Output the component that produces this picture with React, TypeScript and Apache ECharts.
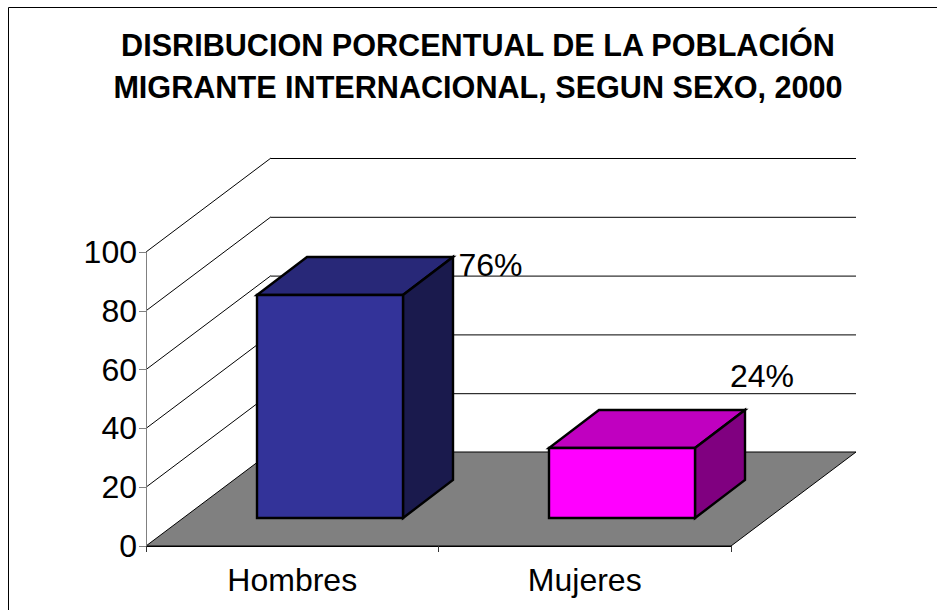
import React, { useEffect, useRef } from "react";
import * as echarts from "echarts";

const titleLines = ["DISRIBUCION PORCENTUAL DE LA POBLACIÓN", "MIGRANTE INTERNACIONAL, SEGUN SEXO, 2000"];
const categories = ["Hombres", "Mujeres"];
const values = [76, 24];
const valueLabels = ["76%", "24%"];
const yTicks = [20, 40, 60, 80, 100];
const frontColors = ["#333399", "#ff00ff"];
const topColors = ["#282878", "#c000c0"];
const sideColors = ["#1a1a4d", "#800080"];
const labelOffsets = [[5.5, 8], [-15, -34]];

const DEPTH_X = 125;
const DEPTH_Y = -94;
const BAR_FRONT = 0.3;
const BAR_BACK = 0.7;
const FONT = "Liberation Sans, Arial, sans-serif";

export default function App() {
  const ref = useRef<HTMLDivElement>(null);
  useEffect(() => {
    const chart = echarts.init(ref.current!, undefined, { renderer: "svg" });
    const line = (x1: number, y1: number, x2: number, y2: number, stroke: string, lineWidth = 1) => ({
      type: "line",
      shape: { x1, y1, x2, y2 },
      style: { stroke, lineWidth },
    });
    chart.setOption({
      animation: false,
      backgroundColor: "#ffffff",
      title: {
        text: titleLines.join("\n"),
        left: 473,
        top: 19,
        textAlign: "center",
        textStyle: { fontFamily: FONT, fontSize: 30.6, fontWeight: "bold", color: "#000", lineHeight: 42 },
      },
      graphic: [
        { type: "rect", shape: { x: 8.5, y: 7.5, width: 1000, height: 700 }, style: { fill: "none", stroke: "#000", lineWidth: 1 }, silent: true },
      ],
      grid: { left: 146, top: 252, width: 585, height: 294, containLabel: false },
      xAxis: {
        type: "category",
        data: categories,
        axisLine: { lineStyle: { color: "#000", width: 1 } },
        axisTick: { show: true, length: 6, lineStyle: { color: "#333" } },
        axisLabel: { fontFamily: FONT, fontSize: 32, color: "#000", margin: 18 },
        z: 5,
      },
      yAxis: {
        type: "value",
        min: 0,
        max: 100,
        interval: 20,
        axisLine: { show: true, lineStyle: { color: "#808080", width: 1 } },
        axisTick: { show: true, length: 7, lineStyle: { color: "#808080" } },
        axisLabel: { fontFamily: FONT, fontSize: 32, color: "#000", margin: 9 },
        splitLine: { show: false },
        z: 5,
      },
      series: [
        {
          type: "custom",
          coordinateSystem: "cartesian2d",
          clip: false,
          z: 1,
          encode: { x: 0, y: 1 },
          data: yTicks.map((t) => [0, t]),
          renderItem: (params: any, api: any) => {
            const y = api.coord([0, api.value(1)])[1];
            const { x, width } = params.coordSys;
            return {
              type: "group",
              children: [
                line(x, y, x + DEPTH_X, y + DEPTH_Y, "#000"),
                line(x + DEPTH_X, y + DEPTH_Y + 0.5, x + DEPTH_X + width, y + DEPTH_Y + 0.5, "#000"),
              ],
            };
          },
        },
        {
          type: "custom",
          coordinateSystem: "cartesian2d",
          clip: false,
          z: 2,
          encode: { x: 0, y: 1 },
          data: [[0, 0]],
          renderItem: (params: any, api: any) => {
            const y = api.coord([0, 0])[1];
            const { x, width } = params.coordSys;
            return {
              type: "polygon",
              shape: {
                points: [
                  [x, y],
                  [x + width, y],
                  [x + width + DEPTH_X, y + DEPTH_Y],
                  [x + DEPTH_X, y + DEPTH_Y],
                ],
              },
              style: { fill: "#808080", stroke: "#000", lineWidth: 1 },
            };
          },
        },
        {
          type: "custom",
          coordinateSystem: "cartesian2d",
          clip: false,
          z: 3,
          encode: { x: 0, y: 1 },
          data: values.map((v, i) => [i, v]),
          renderItem: (params: any, api: any) => {
            const i = params.dataIndex;
            const base = api.coord([api.value(0), 0]);
            const top = api.coord([api.value(0), api.value(1)]);
            const band = api.size([1, 0])[0];
            const half = band / 4;
            const fx = DEPTH_X * BAR_FRONT;
            const fy = DEPTH_Y * BAR_FRONT;
            const dx = DEPTH_X * (BAR_BACK - BAR_FRONT);
            const dy = DEPTH_Y * (BAR_BACK - BAR_FRONT);
            const l = Math.round(base[0] - half + fx);
            const r = Math.round(base[0] + half + fx);
            const b = Math.round(base[1] + fy);
            const t = Math.ceil(top[1] + fy);
            const ddx = Math.round(dx);
            const ddy = Math.round(dy);
            const stroke = { stroke: "#000", lineWidth: 2.4, lineJoin: "miter" };
            return {
              type: "group",
              children: [
                { type: "polygon", shape: { points: [[l, t], [r, t], [r + ddx, t + ddy], [l + ddx, t + ddy]] }, style: { fill: topColors[i], ...stroke } },
                { type: "polygon", shape: { points: [[r, t], [r + ddx, t + ddy], [r + ddx, b + ddy], [r, b]] }, style: { fill: sideColors[i], ...stroke } },
                { type: "rect", shape: { x: l, y: t, width: r - l, height: b - t }, style: { fill: frontColors[i], ...stroke } },
                {
                  type: "text",
                  x: r + ddx + labelOffsets[i][0],
                  y: t + ddy + labelOffsets[i][1],
                  style: { text: valueLabels[i], fontFamily: FONT, fontSize: 32, fill: "#000", textAlign: "left", textVerticalAlign: "middle" },
                },
              ],
            };
          },
        },
      ],
    });
    return () => chart.dispose();
  }, []);
  return <div ref={ref} style={{ position: "absolute", left: 0, top: 0, width: 937, height: 610 }} />;
}
